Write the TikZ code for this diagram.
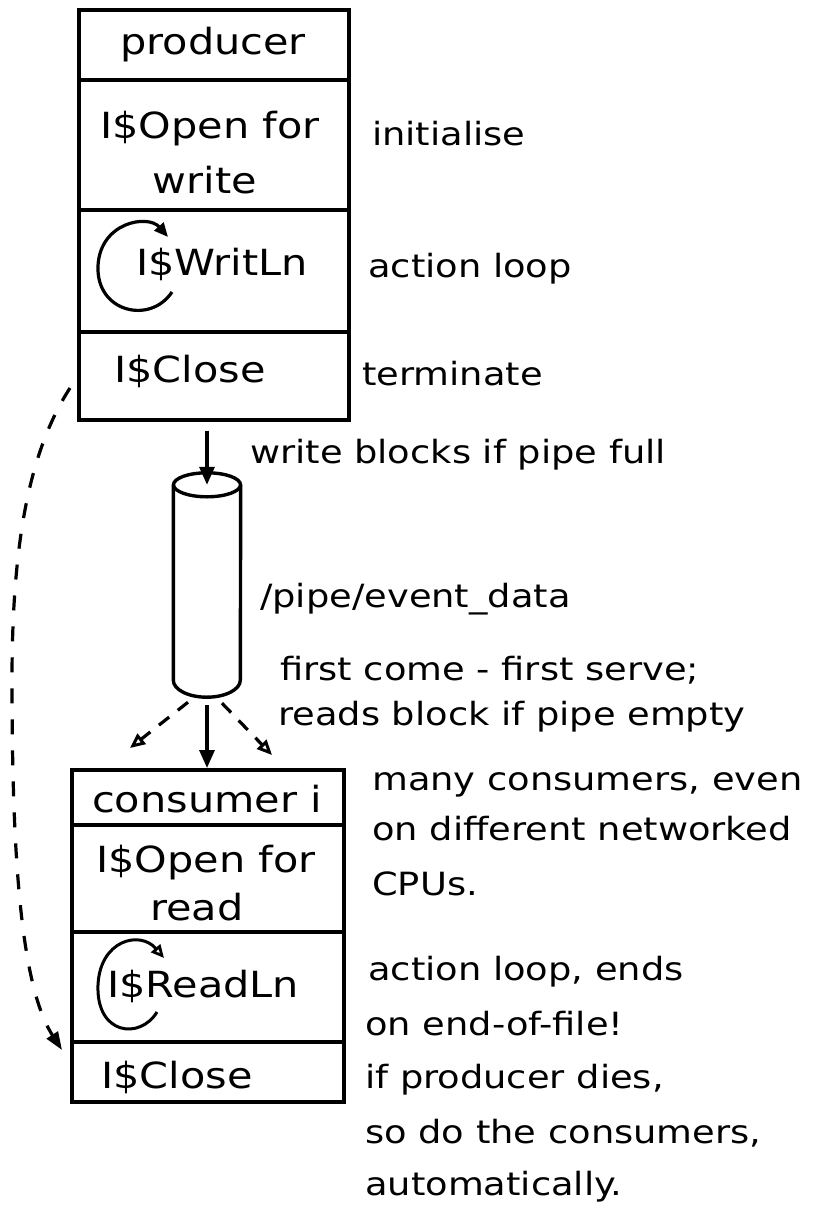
\documentclass[tikz,border=0pt]{standalone}
\usepackage{fontspec}
\setmainfont{DejaVu Sans}[FakeStretch=1.15]
\usetikzlibrary{arrows.meta}
\begin{document}
\begin{tikzpicture}[x=1pt,y=-1pt,
  cell/.style={draw, line width=3.6pt, rectangle, anchor=north west, inner sep=0pt, minimum width=#1},
  intext/.style={anchor=base, inner sep=0pt, font=\fontsize{36}{42}\selectfont},
  side/.style={anchor=base west, inner sep=0pt, font=\fontsize{32}{40}\selectfont},
  conn/.style={line width=3.2pt},
  fillarr/.style={conn, -{Triangle[length=18pt,width=15pt]}},
  openarr/.style={conn, dash pattern=on 13pt off 11pt, -{Triangle[open,length=15pt,width=13pt,line width=3pt]}},
  loopfill/.style={line width=3.2pt, -{Triangle[length=14pt,width=12pt]}},
  loopopen/.style={line width=3pt, -{Triangle[open,length=13pt,width=12pt,line width=2.8pt]}},
  dashconn/.style={line width=3.2pt, dash pattern=on 15pt off 16pt, -{Triangle[length=18pt,width=13pt]}},
  pipeline/.style={line width=3.4pt}
]
\useasboundingbox (0,0) rectangle (813,1215);

% producer box
\node[cell=270, minimum height=70] (p1) at (77,8) {};
\node[cell=270, minimum height=130] (p2) at (77,78) {};
\node[cell=270, minimum height=122] (p3) at (77,208) {};
\node[cell=270, minimum height=88] (p4) at (77,330) {};
\node[intext] (tp1) at (213,55) {producer};
\node[intext] (tp2a) at (210,138) {I\$Open for};
\node[intext] (tp2b) at (205,193) {write};
\node[intext] (tp3) at (222,275) {I\$WritLn};
\node[intext] (tp4) at (190,382) {I\$Close};
\coordinate (pl1) at (172,292);
\coordinate (pl2) at (168,237);
\draw[loopfill] (pl1) .. controls (150,325) and (96,312) .. (98,266) .. controls (100,222) and (148,214) .. (pl2);

% side texts producer
\node[side] (s1) at (372,145) {initialise};
\node[side] (s2) at (368,277) {action loop};
\node[side] (s3) at (362,385) {terminate};
\node[side] (s4) at (250,463) {write blocks if pipe full};

% pipe
\node[minimum width=67pt, minimum height=224pt, inner sep=0pt] (pipe) at (207,585) {};
\draw[pipeline] ([yshift=-12pt]pipe.north) ellipse [x radius=33.5pt, y radius=12pt];
\draw[pipeline] ([yshift=-12pt]pipe.north west) -- ([yshift=17pt]pipe.south west)
   arc[start angle=180, end angle=360, x radius=33.5pt, y radius=17pt] -- ([yshift=-12pt]pipe.north east);
\node[side] (s5) at (260,607) {/pipe/event\_data};
\node[side] (s6) at (280,680) {first come - first serve;};
\node[side] (s7) at (278,725) {reads block if pipe empty};

% consumer box
\node[cell=272, minimum height=55] (c1) at (70,768) {};
\node[cell=272, minimum height=107] (c2) at (70,823) {};
\node[cell=272, minimum height=110] (c3) at (70,930) {};
\node[cell=272, minimum height=60] (c4) at (70,1040) {};
\node[intext] (tc1) at (207,812) {consumer i};
\node[intext] (tc2a) at (206,872) {I\$Open for};
\node[intext] (tc2b) at (197,920) {read};
\node[intext] (tc3) at (203,997) {I\$ReadLn};
\node[intext] (tc4) at (177,1088) {I\$Close};
\coordinate (cl1) at (157,1012);
\coordinate (cl2) at (164,958);
\draw[loopopen] (cl1) .. controls (140,1040) and (96,1035) .. (98,985) .. controls (100,940) and (140,930) .. (cl2);

% side texts consumer
\node[side] (s8) at (372,790) {many consumers, even};
\node[side] (s9) at (372,840) {on different networked};
\node[side] (s10) at (372,895) {CPUs.};
\node[side] (s11) at (368,980) {action loop, ends};
\node[side] (s12) at (365,1035) {on end-of-file!};
\node[side] (s13) at (365,1088) {if producer dies,};
\node[side] (s14) at (365,1143) {so do the consumers,};
\node[side] (s15) at (365,1195) {automatically.};

% connectors
\draw[fillarr, shorten <=9pt] (pipe.north |- p4.south) -- ([yshift=-12pt]pipe.north);
\draw[fillarr, shorten <=8pt] (pipe.south) -- (pipe.south |- c1.north);
\coordinate (dl) at (130,748);
\coordinate (dr) at (272,755);
\draw[openarr] ([xshift=-19pt,yshift=-5pt]pipe.south) -- (dl);
\draw[openarr] ([xshift=15pt,yshift=-6pt]pipe.south) -- (dr);

% dashed producer-to-consumer link
\coordinate (d0) at (70,388);
\coordinate (d1) at (12,680);
\coordinate (d2) at (62,1050);
\draw[dashconn] (d0) .. controls (30,450) and (12,540) .. (d1) .. controls (12,850) and (20,985) .. (d2);
\end{tikzpicture}
\end{document}
